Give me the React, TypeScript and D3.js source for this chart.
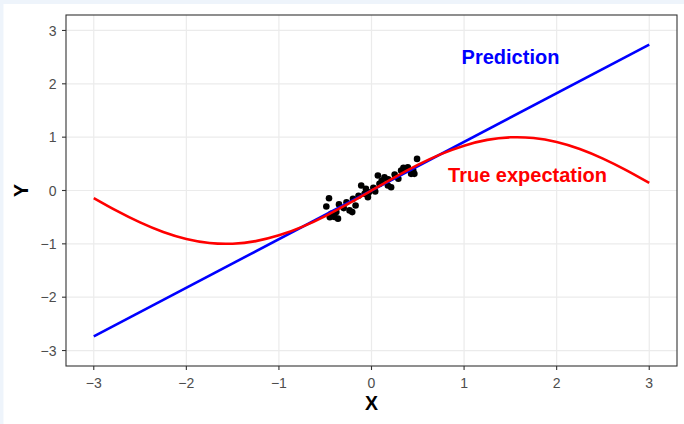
import React from "react";
import * as d3 from "d3";

// ---- data ----
const tickValues = [-3, -2, -1, 0, 1, 2, 3];
const tickLabels = ["\u22123", "\u22122", "\u22121", "0", "1", "2", "3"];

// observed sample points (x, y)
const sampleX = [
  -0.488, -0.459, -0.434, -0.399, -0.362, -0.351, -0.38, -0.237, -0.208, -0.172,
  -0.2, -0.111, -0.075, -0.028, -0.039, 0.069, 0.086, 0.14, 0.177, 0.212,
  0.32, 0.345, 0.392, 0.428, 0.463, 0.492, -0.3, -0.27, -0.14, 0.02,
  0.04, 0.11, 0.25, 0.29, -0.45, 0.45, -0.06, 0.18,
];
const sampleY = [
  -0.299, -0.144, -0.435, -0.498, -0.528, -0.261, -0.405, -0.373, -0.405, -0.28,
  -0.155, 0.093, -0.062, -0.032, -0.125, 0.28, 0.125, 0.248, 0.093, 0.062,
  0.373, 0.424, 0.435, 0.312, 0.312, 0.592, -0.33, -0.22, -0.1, 0.05,
  -0.02, 0.18, 0.3, 0.22, -0.5, 0.38, 0.03, 0.21,
];

// fitted prediction line (endpoints)
const predX = [-3, 3];
const predY = [-2.735, 2.735];

// true expectation curve, read at 0.25 steps
const trueX = [
  -3, -2.75, -2.5, -2.25, -2, -1.75, -1.5, -1.25, -1, -0.75, -0.5, -0.25, 0,
  0.25, 0.5, 0.75, 1, 1.25, 1.5, 1.75, 2, 2.25, 2.5, 2.75, 3,
];
const trueY = [
  -0.141, -0.382, -0.598, -0.778, -0.909, -0.984, -0.997, -0.949, -0.841, -0.682,
  -0.479, -0.247, 0, 0.247, 0.479, 0.682, 0.841, 0.949, 0.997, 0.984, 0.909,
  0.778, 0.598, 0.382, 0.141,
];

const W = 684;
const H = 424;
const panel = { left: 66, right: 677, top: 15, bottom: 366 };
const font = "'Liberation Sans', Arial, Helvetica, sans-serif";

export default function App() {
  const x = d3.scaleLinear().domain([-3.3, 3.3]).range([panel.left, panel.right]);
  const y = d3.scaleLinear().domain([-3.29, 3.29]).range([panel.bottom, panel.top]);

  const predData = predX.map((v, i) => [v, predY[i]] as [number, number]);
  const trueData = trueX.map((v, i) => [v, trueY[i]] as [number, number]);
  const line = d3
    .line<[number, number]>()
    .x((d) => x(d[0]))
    .y((d) => y(d[1]));
  const curve = d3
    .line<[number, number]>()
    .x((d) => x(d[0]))
    .y((d) => y(d[1]))
    .curve(d3.curveNatural);

  return (
    <svg
      width={W}
      height={H}
      style={{ position: "absolute", left: 0, top: 0, display: "block" }}
    >
      <rect x={0} y={0} width={W} height={H} fill="#eef4fb" />
      <rect x={3.5} y={4} width={W} height={H} fill="#ffffff" />
      <defs>
        <clipPath id="panelClip">
          <rect
            x={panel.left}
            y={panel.top}
            width={panel.right - panel.left}
            height={panel.bottom - panel.top}
          />
        </clipPath>
      </defs>
      {/* grid */}
      {tickValues.map((t) => (
        <line
          key={"gx" + t}
          x1={x(t)}
          x2={x(t)}
          y1={panel.top}
          y2={panel.bottom}
          stroke="#ebebeb"
          strokeWidth={1.2}
        />
      ))}
      {tickValues.map((t) => (
        <line
          key={"gy" + t}
          x1={panel.left}
          x2={panel.right}
          y1={y(t)}
          y2={y(t)}
          stroke="#ebebeb"
          strokeWidth={1.2}
        />
      ))}
      <g clipPath="url(#panelClip)">
        {sampleX.map((v, i) => (
          <circle key={"p" + i} cx={x(v)} cy={y(sampleY[i])} r={3.3} fill="#000" />
        ))}
        <path d={line(predData) || ""} fill="none" stroke="#0000ff" strokeWidth={2.6} />
        <path d={curve(trueData) || ""} fill="none" stroke="#ff0000" strokeWidth={2.6} />
      </g>
      {/* panel border */}
      <rect
        x={panel.left}
        y={panel.top}
        width={panel.right - panel.left}
        height={panel.bottom - panel.top}
        fill="none"
        stroke="#333333"
        strokeWidth={1.1}
      />
      {/* ticks */}
      {tickValues.map((t, i) => (
        <g key={"tx" + t}>
          <line
            x1={x(t)}
            x2={x(t)}
            y1={panel.bottom}
            y2={panel.bottom + 4}
            stroke="#333333"
            strokeWidth={1.1}
          />
          <text
            x={x(t)}
            y={387.5}
            textAnchor="middle"
            fontFamily={font}
            fontSize={14}
            fill="#4d4d4d"
          >
            {tickLabels[i]}
          </text>
        </g>
      ))}
      {tickValues.map((t, i) => (
        <g key={"ty" + t}>
          <line
            x1={panel.left - 4}
            x2={panel.left}
            y1={y(t)}
            y2={y(t)}
            stroke="#333333"
            strokeWidth={1.1}
          />
          <text
            x={56.5}
            y={y(t)}
            dy="0.36em"
            textAnchor="end"
            fontFamily={font}
            fontSize={14}
            fill="#4d4d4d"
          >
            {tickLabels[i]}
          </text>
        </g>
      ))}
      {/* axis titles */}
      <text
        x={x(0)}
        y={410}
        textAnchor="middle"
        fontFamily={font}
        fontSize={19.5}
        fontWeight="bold"
        fill="#000"
      >
        X
      </text>
      <text
        transform={`translate(28, ${y(0)}) rotate(-90)`}
        textAnchor="middle"
        fontFamily={font}
        fontSize={19.5}
        fontWeight="bold"
        fill="#000"
      >
        Y
      </text>
      {/* annotations */}
      <text
        x={510.5}
        y={64}
        textAnchor="middle"
        fontFamily={font}
        fontSize={20}
        fontWeight="bold"
        fill="#0000ff"
      >
        Prediction
      </text>
      <text
        x={527.5}
        y={182}
        textAnchor="middle"
        fontFamily={font}
        fontSize={20}
        fontWeight="bold"
        fill="#ff0000"
      >
        True expectation
      </text>
    </svg>
  );
}
